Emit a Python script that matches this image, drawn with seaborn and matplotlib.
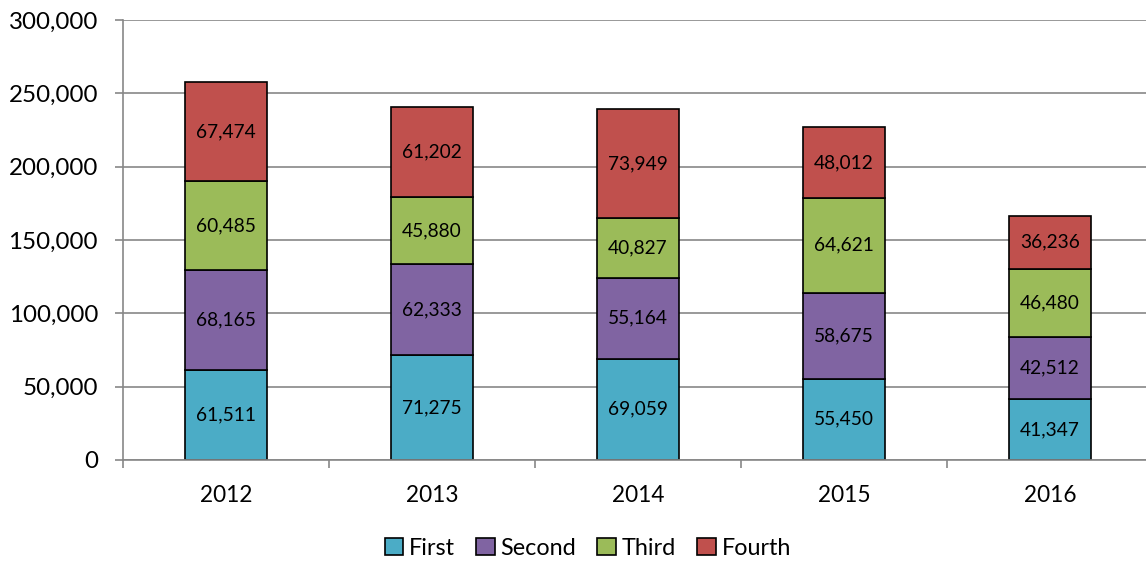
import pandas as pd
import numpy as np
import matplotlib.pyplot as plt
import seaborn as sns
from matplotlib.ticker import FuncFormatter, FixedLocator

years = ['2012', '2013', '2014', '2015', '2016']
series = ['First', 'Second', 'Third', 'Fourth']
first = [61511, 71275, 69059, 55450, 41347]
second = [68165, 62333, 55164, 58675, 42512]
third = [60485, 45880, 40827, 64621, 46480]
fourth = [67474, 61202, 73949, 48012, 36236]
colors = ['#4BACC6', '#8064A2', '#9BBB59', '#C0504D']


def build_table():
    rows = []
    for name, vals in zip(series, [first, second, third, fourth]):
        for y, v in zip(years, vals):
            rows.append({'year': y, 'series': name, 'value': v})
    return pd.DataFrame(rows)


def draw(df):
    sns.set_style('white')
    plt.rcParams['font.family'] = ['Lato', 'DejaVu Sans']
    plt.rcParams['text.color'] = 'black'
    plt.rcParams['xtick.labelcolor'] = 'black'
    plt.rcParams['ytick.labelcolor'] = 'black'

    fig = plt.figure(figsize=(11.46, 5.61), dpi=100)
    ax = fig.add_axes([123 / 1146, 1 - 460 / 561, 1030 / 1146, 440 / 561])

    bottom = np.zeros(len(years))
    handles = []
    for name, col in zip(series, colors):
        part = df[df['series'] == name]
        sns.barplot(data=part, x='year', y='value', order=years, color=col,
                    width=0.4, errorbar=None, bottom=bottom, edgecolor='black',
                    linewidth=1.2, saturation=1, ax=ax)
        cont = ax.containers[-1]
        ax.bar_label(cont, labels=[f'{v:,}' for v in part['value']],
                     label_type='center', fontsize=13.8, color='black')
        handles.append(cont)
        bottom = bottom + part['value'].to_numpy()

    ax.set_ylim(0, 300000)
    ax.set_xlim(-0.5, 4.5)
    ax.set_yticks(range(0, 300001, 50000))
    ax.yaxis.set_major_formatter(FuncFormatter(lambda v, p: f'{int(v):,}'))
    ax.set_xlabel('')
    ax.set_ylabel('')

    ax.grid(axis='y', color='#878787', linewidth=1.2)
    ax.set_axisbelow(True)
    for s in ['top', 'right']:
        ax.spines[s].set_visible(False)
    for s in ['left', 'bottom']:
        ax.spines[s].set_color('#878787')
        ax.spines[s].set_linewidth(1.2)

    ax.tick_params(axis='y', length=6, width=1.2, color='#878787', pad=12,
                   labelsize=17.4, left=True)
    ax.tick_params(axis='x', which='major', length=0, pad=18, labelsize=16.3)
    ax.xaxis.set_minor_locator(FixedLocator([-0.5, 0.5, 1.5, 2.5, 3.5, 4.5]))
    ax.tick_params(axis='x', which='minor', length=6, width=1.2,
                   color='#878787', bottom=True)

    fig.legend(handles, series, loc='center', bbox_to_anchor=(0.513, 0.023),
               ncol=4, frameon=False, fontsize=16.8, handlelength=0.8,
               handleheight=0.8, handletextpad=0.25, columnspacing=0.9)

    fig.savefig('out.png', dpi=100)


if __name__ == '__main__':
    draw(build_table())
